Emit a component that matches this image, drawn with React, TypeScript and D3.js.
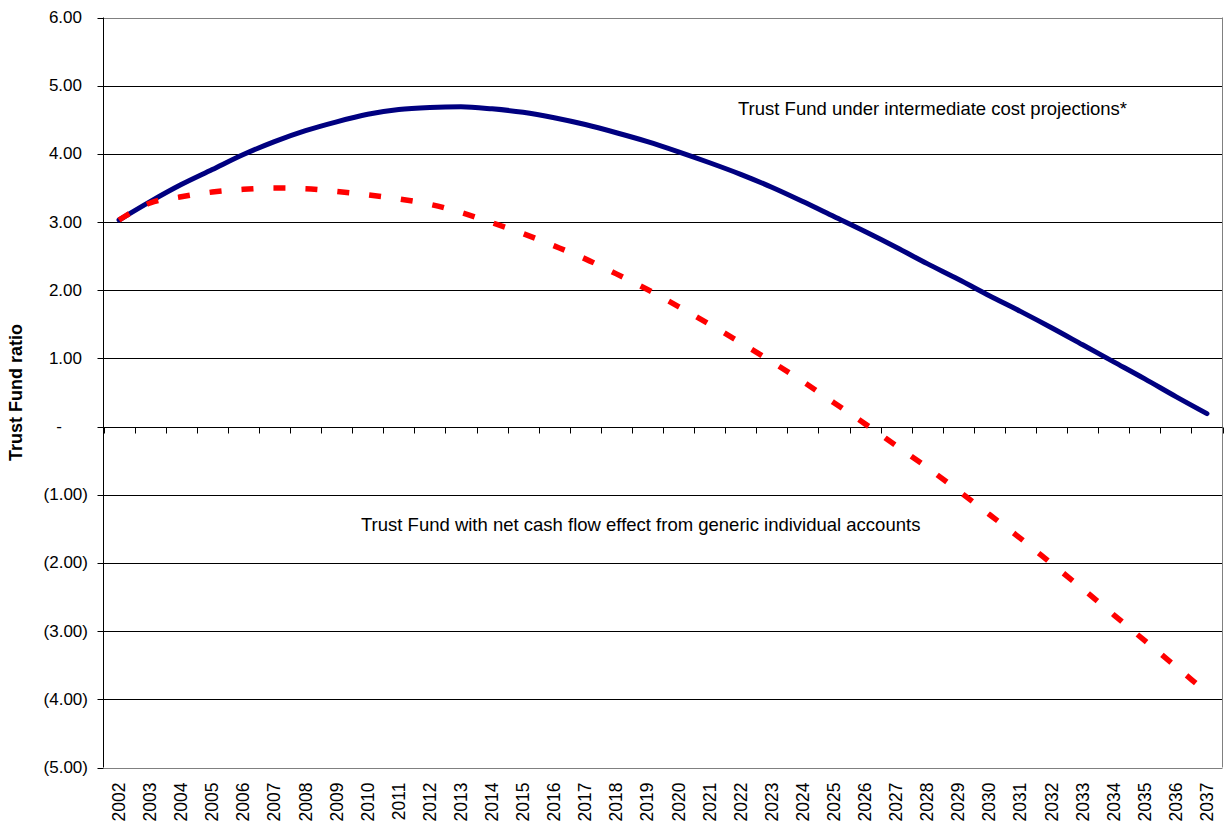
import React from "react";
import * as d3 from "d3";

const years: string[] = [
  "2002","2003","2004","2005","2006","2007","2008","2009","2010","2011","2012","2013",
  "2014","2015","2016","2017","2018","2019","2020","2021","2022","2023","2024","2025",
  "2026","2027","2028","2029","2030","2031","2032","2033","2034","2035","2036","2037",
];

const intermediate: number[] = [
  3.03, 3.30, 3.55, 3.77, 3.99, 4.18, 4.34, 4.47, 4.58, 4.65, 4.68, 4.69,
  4.66, 4.61, 4.53, 4.43, 4.31, 4.18, 4.03, 3.87, 3.70, 3.51, 3.30, 3.08,
  2.86, 2.63, 2.39, 2.16, 1.92, 1.69, 1.45, 1.20, 0.95, 0.70, 0.44, 0.19,
];

const withAccounts: number[] = [
  3.03, 3.28, 3.37, 3.44, 3.48, 3.50, 3.49, 3.45, 3.40, 3.34, 3.26, 3.14,
  2.99, 2.83, 2.65, 2.46, 2.24, 2.01, 1.76, 1.50, 1.23, 0.95, 0.66, 0.35,
  0.04, -0.28, -0.60, -0.94, -1.29, -1.64, -2.01, -2.38, -2.76, -3.14, -3.52, -3.90,
];

const yTicks: number[] = [6, 5, 4, 3, 2, 1, 0, -1, -2, -3, -4, -5];

const labelTop = "Trust Fund under intermediate cost projections*";
const labelBottom = "Trust Fund with net cash flow effect from generic individual accounts";
const yAxisTitle = "Trust Fund ratio";

const W = 1225;
const H = 827;
const left = 103.5;
const right = 1222.5;
const top = 17.5;
const bottom = 767.5;
const FONT = "Arial, 'Liberation Sans', Helvetica, sans-serif";

function fmt(v: number): string {
  if (v === 0) return "-";
  if (v < 0) return "(" + Math.abs(v).toFixed(2) + ")";
  return v.toFixed(2);
}

export default function App() {
  const x = d3.scaleBand<string>().domain(years).range([left, right]).paddingInner(0).paddingOuter(0);
  const y = d3.scaleLinear().domain([-5, 6]).range([bottom, top]);
  const cx = (d: string) => (x(d) as number) + x.bandwidth() / 2;

  const line = d3
    .line<number>()
    .x((_, i) => cx(years[i]))
    .y((v) => y(v))
    .curve(d3.curveMonotoneX);

  const zeroY = Math.round(y(0)) + 0.5;
  const boundaries = years.map((d) => x(d) as number).concat([right]);

  return (
    <svg
      width={W}
      height={H}
      style={{ position: "absolute", left: 0, top: 0, background: "#fff" }}
      fontFamily={FONT}
    >
      <rect x={0} y={0} width={W} height={H} fill="#fff" />
      {yTicks.map((t) => {
        const yy = Math.round(y(t)) + 0.5;
        return (
          <line key={"g" + t} x1={left} x2={right} y1={yy} y2={yy} stroke={t === 6 || t === -5 ? "#808080" : "#000"} strokeWidth={1} />
        );
      })}
      <line x1={right} x2={right} y1={top} y2={bottom} stroke="#808080" strokeWidth={1} />
      <line x1={left} x2={left} y1={top} y2={bottom} stroke="#000" strokeWidth={1} />
      {yTicks.map((t) => {
        const yy = Math.round(y(t)) + 0.5;
        return <line key={"yt" + t} x1={left - 6} x2={left} y1={yy} y2={yy} stroke="#000" strokeWidth={1} />;
      })}
      {yTicks.map((t) => (
        <text
          key={"yl" + t}
          x={t < 0 ? 88 : t === 0 ? 62 : 82}
          y={y(t)}
          textAnchor="end"
          dominantBaseline="central"
          fontSize={17}
          fill="#000"
        >
          {fmt(t)}
        </text>
      ))}
      <line x1={left} x2={right} y1={zeroY} y2={zeroY} stroke="#000" strokeWidth={1} />
      {boundaries.map((b, i) => {
        const bx = Math.round(b) + 0.5;
        return <line key={"xt" + i} x1={bx} x2={bx} y1={zeroY} y2={zeroY + 6} stroke="#000" strokeWidth={1} />;
      })}
      {years.map((d) => (
        <text
          key={"xl" + d}
          transform={`translate(${cx(d)},${bottom + 15}) rotate(-90)`}
          textAnchor="end"
          dominantBaseline="central"
          fontSize={17.5}
          fill="#000"
        >
          {d}
        </text>
      ))}
      <path d={line(intermediate) || ""} fill="none" stroke="#000080" strokeWidth={5} strokeLinejoin="round" strokeLinecap="round" />
      <path d={line(withAccounts) || ""} fill="none" stroke="#ff0000" strokeWidth={5.5} strokeDasharray="12,20" strokeLinecap="butt" />
      <text x={738} y={115} fontSize={18.5} fill="#000">{labelTop}</text>
      <text x={361} y={531} fontSize={18.5} fill="#000">{labelBottom}</text>
      <text
        transform={`translate(22,${(top + bottom) / 2}) rotate(-90)`}
        textAnchor="middle"
        fontSize={18}
        fontWeight="bold"
        fill="#000"
      >
        {yAxisTitle}
      </text>
    </svg>
  );
}
